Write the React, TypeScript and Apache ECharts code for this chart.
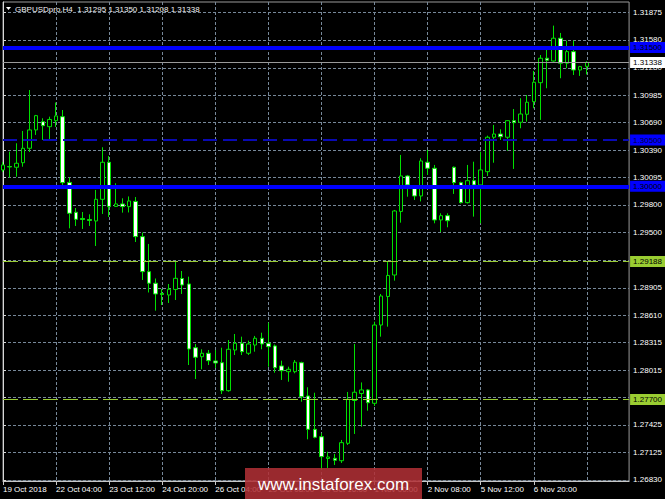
import React, { useEffect, useRef } from 'react';
import * as echarts from 'echarts';

const FONT = "'Liberation Sans', Arial, sans-serif";

const titleText = 'GBPUSDpro,H4  1.31295 1.31350 1.31208 1.31338';
const watermarkText = 'www.instaforex.com';

// H4 candles, bar index 0..88
const opens = [
  1.30177, 1.30214, 1.30206, 1.30255, 1.30411, 1.30609, 1.30698, 1.30644, 1.30709, 1.30752,
  1.30042, 1.29720, 1.29653, 1.29642, 1.29626, 1.29860, 1.30260, 1.29783, 1.29810, 1.29781,
  1.29837, 1.29457, 1.29079, 1.28954, 1.28843, 1.28827, 1.28887, 1.29005, 1.28946, 1.28258,
  1.28161, 1.28198, 1.28115, 1.28096, 1.27794, 1.28233, 1.28306, 1.28198, 1.28287, 1.28360,
  1.28306, 1.28277, 1.28061, 1.27999, 1.27999, 1.28096, 1.27737, 1.27377, 1.27297, 1.27062,
  1.27064, 1.27038, 1.27226, 1.27688, 1.27764, 1.27802, 1.27658, 1.28503, 1.28811, 1.29043,
  1.29729, 1.30112, 1.29990, 1.29896, 1.30260, 1.30195, 1.29637, 1.29683, 1.30206, 1.30040,
  1.29824, 1.30061, 1.30015, 1.30158, 1.30530, 1.30565, 1.30530, 1.30709, 1.30692, 1.30778,
  1.30914, 1.31119, 1.31383, 1.31353, 1.31599, 1.31329, 1.31454, 1.31256, 1.31295,
];
const highs = [
  1.30263, 1.30374, 1.30465, 1.30598, 1.31040, 1.30771, 1.30735, 1.30752, 1.30905, 1.30824,
  1.30096, 1.29766, 1.29723, 1.29698, 1.29961, 1.30422, 1.30328, 1.30033, 1.29871, 1.29891,
  1.29885, 1.29502, 1.29378, 1.29005, 1.28892, 1.28946, 1.29187, 1.29086, 1.29025, 1.28298,
  1.28241, 1.28233, 1.28233, 1.28258, 1.28341, 1.28406, 1.28377, 1.28334, 1.28385, 1.28420,
  1.28528, 1.28293, 1.28118, 1.28053, 1.28125, 1.28107, 1.27831, 1.27772, 1.27334, 1.27135,
  1.27111, 1.27262, 1.27780, 1.28298, 1.27883, 1.27812, 1.28539, 1.28838, 1.29187, 1.29745,
  1.30339, 1.30123, 1.29996, 1.30303, 1.30393, 1.30231, 1.29709, 1.29709, 1.30214, 1.30050,
  1.30231, 1.30266, 1.30374, 1.30547, 1.30663, 1.30616, 1.30713, 1.30835, 1.30951, 1.30986,
  1.31246, 1.31418, 1.31472, 1.31735, 1.31656, 1.31573, 1.31573, 1.31300, 1.31350,
];
const lows = [
  1.30155, 1.30094, 1.30104, 1.30212, 1.30371, 1.30555, 1.30501, 1.30501, 1.30641, 1.30015,
  1.29547, 1.29572, 1.29540, 1.29572, 1.29356, 1.29702, 1.29669, 1.29777, 1.29716, 1.29718,
  1.29399, 1.28989, 1.28854, 1.28658, 1.28719, 1.28741, 1.28773, 1.28838, 1.28071, 1.27920,
  1.28025, 1.28071, 1.28039, 1.27758, 1.27783, 1.28179, 1.28179, 1.28179, 1.28215, 1.28241,
  1.28053, 1.27988, 1.27910, 1.27891, 1.27982, 1.27675, 1.27269, 1.27280, 1.26938, 1.26960,
  1.26992, 1.27014, 1.27208, 1.27327, 1.27405, 1.27578, 1.27629, 1.28377, 1.28485, 1.28982,
  1.29608, 1.29888, 1.29853, 1.29837, 1.30123, 1.29601, 1.29507, 1.29558, 1.29918, 1.29815,
  1.29815, 1.29673, 1.29601, 1.30112, 1.30255, 1.30501, 1.30385, 1.30188, 1.30627, 1.30698,
  1.30843, 1.30717, 1.31059, 1.31346, 1.31167, 1.31275, 1.31202, 1.31192, 1.31208,
];
const closes = [
  1.30231, 1.30209, 1.30249, 1.30411, 1.30609, 1.30763, 1.30655, 1.30722, 1.30760, 1.30040,
  1.29709, 1.29644, 1.29642, 1.29632, 1.29860, 1.30260, 1.29781, 1.29810, 1.29781, 1.29842,
  1.29457, 1.29079, 1.28954, 1.28838, 1.28833, 1.28889, 1.29007, 1.28935, 1.28244, 1.28155,
  1.28198, 1.28118, 1.28093, 1.27794, 1.28241, 1.28306, 1.28215, 1.28298, 1.28360, 1.28298,
  1.28269, 1.28042, 1.28010, 1.28025, 1.28101, 1.27729, 1.27377, 1.27291, 1.27082, 1.27078,
  1.27043, 1.27233, 1.27701, 1.27777, 1.27802, 1.27664, 1.28503, 1.28816, 1.29038, 1.29734,
  1.30112, 1.30015, 1.29896, 1.30274, 1.30195, 1.29637, 1.29683, 1.29629, 1.30040, 1.29824,
  1.30061, 1.30015, 1.30177, 1.30530, 1.30565, 1.30536, 1.30709, 1.30687, 1.30781, 1.30908,
  1.31124, 1.31383, 1.31361, 1.31599, 1.31329, 1.31454, 1.31256, 1.31292, 1.31338,
];

// time axis labels, one every 8 bars starting at bar 0
const dateLabels = [
  '19 Oct 2018', '22 Oct 04:00', '23 Oct 12:00', '24 Oct 20:00', '26 Oct 04:00', '29 Oct 08:00',
  '30 Oct 16:00', '1 Nov 00:00', '2 Nov 08:00', '5 Nov 12:00', '6 Nov 20:00', '8 Nov 04:00',
];
const dateLabelStep = 8;

// price grid lines and labels on the right scale
const priceTicks = [
  1.31875, 1.3158, 1.3128, 1.30985, 1.3069, 1.3039, 1.30095, 1.298, 1.295, 1.29205,
  1.28905, 1.2861, 1.28315, 1.28015, 1.2772, 1.27425, 1.27125, 1.2683,
];
const hiddenPriceLabels = [1.29205, 1.2772];

// horizontal levels
const solidBlueLevels = [1.315, 1.3];
const dashedBlueLevels = [1.305];
const greenLevels = [1.29188, 1.277];
const currentPrice = 1.31338;

const priceMin = 1.26819;
const priceMax = 1.3199;

export default function App() {
  const ref = useRef<HTMLDivElement>(null);

  useEffect(() => {
    document.body.style.margin = '0';
    document.body.style.background = '#000';
    const chart = echarts.init(ref.current as HTMLDivElement, null, { renderer: 'svg' });

    const candleData = opens.map((o, i) => [i, o, closes[i], lows[i], highs[i]]);
    const labelBars = dateLabels.map((_, i) => i * dateLabelStep);
    const priceLabelValues = priceTicks.filter((v) => !hiddenPriceLabels.includes(v));

    const baseLabel = {
      show: true,
      position: 'end',
      distance: 1,
      fontSize: 8,
      fontFamily: FONT,
      color: '#000000',
      padding: [2, 3, 1, 3],
      lineHeight: 8,
      formatter: (p: any) => Number(p.value).toFixed(5),
    };

    const markData: any[] = [];
    markData.push({
      yAxis: currentPrice,
      lineStyle: { color: '#9a9a9a', width: 1, type: 'solid' },
      label: { ...baseLabel, backgroundColor: '#ffffff' },
    });
    dashedBlueLevels.forEach((v) =>
      markData.push({
        yAxis: v,
        lineStyle: { color: '#0a0ab4', width: 2, type: [14, 6] },
        label: { ...baseLabel, backgroundColor: '#0000ff', color: '#00003a' },
      })
    );
    greenLevels.forEach((v) =>
      markData.push({
        yAxis: v,
        lineStyle: { color: '#9acd32', width: 1, type: [15, 5] },
        label: { ...baseLabel, backgroundColor: '#9acd32' },
      })
    );
    solidBlueLevels.forEach((v) =>
      markData.push({
        yAxis: v,
        lineStyle: { color: '#0000ff', width: 4, type: 'solid' },
        label: { ...baseLabel, backgroundColor: '#0000ff' },
      })
    );

    const gridStyle = { color: '#778899', width: 1, type: [3, 2] };

    const option: any = {
      animation: false,
      backgroundColor: '#000000',
      grid: {
        left: 2.6,
        top: 2,
        width: 627.4,
        height: 479,
        show: true,
        borderColor: '#9a9a9a',
        borderWidth: 1,
        backgroundColor: 'transparent',
      },
      xAxis: {
        type: 'value',
        min: 0,
        max: 94.36,
        interval: 4,
        axisLine: { show: true, lineStyle: { color: '#c8c8c8' } },
        axisTick: { show: true, length: 4, customValues: labelBars, lineStyle: { color: '#c8c8c8' } },
        axisLabel: {
          customValues: labelBars,
          formatter: (v: number) => {
            const idx = Math.round(v / dateLabelStep);
            return v % dateLabelStep === 0 && dateLabels[idx] ? dateLabels[idx] : '';
          },
          align: 'left',
          margin: 4,
          color: '#ffffff',
          fontSize: 8,
          fontFamily: FONT,
          showMinLabel: true,
          showMaxLabel: false,
          hideOverlap: false,
        },
        splitLine: { show: true, lineStyle: gridStyle },
      },
      yAxis: {
        type: 'value',
        position: 'right',
        min: priceMin,
        max: priceMax,
        axisLine: { show: true, lineStyle: { color: '#d8d8d8' } },
        axisTick: { show: true, length: 3, customValues: priceTicks, lineStyle: { color: '#d8d8d8' } },
        axisLabel: {
          customValues: priceLabelValues,
          formatter: (v: number) => v.toFixed(5),
          margin: 4,
          color: '#ffffff',
          fontSize: 8,
          fontFamily: FONT,
        },
        splitLine: { show: true, lineStyle: gridStyle },
      },
      series: [
        {
          type: 'candlestick',
          data: candleData,
          encode: { x: 0, y: [1, 2, 3, 4] },
          barWidth: 4,
          clip: true,
          itemStyle: {
            color: '#000000',
            color0: '#ffffff',
            borderColor: '#00e000',
            borderColor0: '#00e000',
            borderColorDoji: '#00e000',
            borderWidth: 1,
          },
          markLine: {
            silent: true,
            symbol: ['none', 'none'],
            precision: 5,
            animation: false,
            data: markData,
          },
        },
      ],
      graphic: [
        {
          type: 'polygon',
          shape: { points: [[6, 7], [11, 7], [8.5, 10]] },
          style: { fill: '#ffffff' },
        },
        {
          type: 'text',
          x: 15,
          y: 9,
          style: {
            text: titleText,
            fill: '#f0f0f0',
            font: `8px ${FONT}`,
            verticalAlign: 'middle',
          },
        },
        {
          type: 'rect',
          z: 100,
          shape: { x: 245, y: 468, width: 177, height: 31 },
          style: { fill: 'rgba(178,48,54,0.86)' },
        },
        {
          type: 'text',
          z: 101,
          x: 333.5,
          y: 484,
          style: {
            text: watermarkText,
            fill: '#ffffff',
            font: "17px 'Liberation Sans', Arial, sans-serif",
            align: 'center',
            verticalAlign: 'middle',
          },
        },
      ],
    };

    chart.setOption(option);
    return () => chart.dispose();
  }, []);

  return (
    <div
      ref={ref}
      style={{ position: 'fixed', left: 0, top: 0, width: 665, height: 499, background: '#000' }}
    />
  );
}
